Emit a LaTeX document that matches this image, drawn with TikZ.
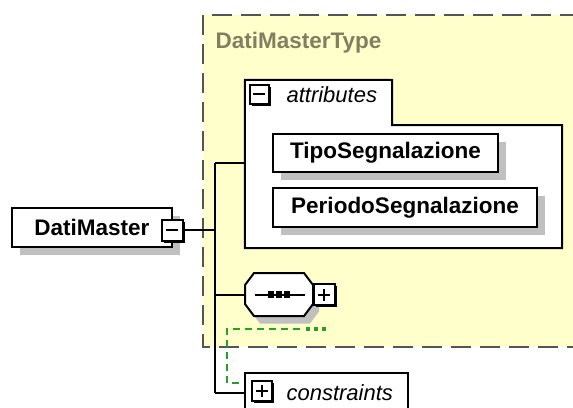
\documentclass[tikz,border=0pt]{standalone}
\usepackage{fontspec}
\setmainfont{Liberation Sans}
\usetikzlibrary{shadows,calc}
\definecolor{typefill}{RGB}{255,255,204}
\definecolor{typeframe}{RGB}{85,85,85}
\definecolor{typetext}{RGB}{128,128,96}
\definecolor{shade}{RGB}{192,192,192}
\definecolor{optgreen}{RGB}{40,160,40}
\tikzset{
  elembox/.style={draw, line width=2pt, fill=white, inner sep=0pt,
    font=\fontsize{22.5}{26}\selectfont\bfseries,
    drop shadow={shadow xshift=8pt, shadow yshift=-8pt, fill=shade, opacity=1}},
  iconbox/.style={draw, line width=2pt, fill=white, minimum size=#1, inner sep=0pt,
    drop shadow={shadow xshift=2pt, shadow yshift=-2pt, fill=black, opacity=1}},
  minussign/.style={path picture={\draw[line width=2pt]
    ([xshift=-6pt]path picture bounding box.center) -- ([xshift=6pt]path picture bounding box.center);}},
  plussign/.style={path picture={\draw[line width=2pt]
    ([xshift=-6pt]path picture bounding box.center) -- ([xshift=6pt]path picture bounding box.center)
    ([yshift=-6pt]path picture bounding box.center) -- ([yshift=6pt]path picture bounding box.center);}},
  conn/.style={line width=2pt, black},
  frameline/.style={typeframe, line width=1.4pt, dash pattern=on 20pt off 9pt},
  optline/.style={optgreen, line width=1.6pt, dash pattern=on 7pt off 5pt},
  anchorbox/.style={inner sep=0pt, minimum width=#1},
  italiclabel/.style={font=\fontsize{22}{26}\selectfont\itshape},
  octo/.pic={\path[pic actions] (-25,-21.5) -- (25,-21.5) -- (34,-9.5) -- (34,9.5)
    -- (25,21.5) -- (-25,21.5) -- (-34,9.5) -- (-34,-9.5) -- cycle;}
}
\begin{document}
\begin{tikzpicture}[x=1pt,y=-1pt]
\useasboundingbox (0,0) rectangle (573,407);
\fill[white] (0,0) rectangle (573,407);

% complex type area
\fill[typefill] (203,15) rectangle (580,347);
\draw[frameline] (580,15) -- (203,15) -- (203,347) -- (580,347);
\node[anchor=west, text=typetext, font=\fontsize{22.5}{26}\selectfont\bfseries] (typename) at (212,43) {DatiMasterType};

% layout anchors
\node[anchorbox=317pt, minimum height=168pt] (attrs) at (403.5,164) {};
\node[anchorbox=68pt, minimum height=43pt] (seq) at (279,294.5) {};
\node[anchorbox=163pt, minimum height=40pt] (cons) at (326.5,393) {};
\coordinate (spinetop) at (215,163);
\coordinate (spinebot) at (215,393);

% connectors
\draw[conn] (spinetop) -- (spinebot);
\draw[conn] (spinetop) -- (spinetop -| attrs.west);
\draw[conn] (seq.west -| spinetop) -- (seq.west);
\draw[conn] (spinebot) -- (cons.west);

% root element
\node[elembox, minimum width=160pt, minimum height=39pt] (dm) at (92,227.5) {DatiMaster\hspace{8pt}};
\node[iconbox=21pt, minussign] (dmc) at (172,230) {};
\draw[conn] (dmc.east) -- (dmc.east -| spinetop);

% attributes group
\draw[line width=2pt, fill=white] (attrs.north west) -- (392,80) -- (392,125)
  -- (attrs.north east |- 0,125) -- (attrs.south east) -- (attrs.south west) -- cycle;
\node[iconbox=19pt, minussign] (attrc) at (259,94) {};
\node[italiclabel, anchor=west] (attrlabel) at (283,95) {attributes};
\node[elembox, minimum width=225pt, minimum height=38pt] (tipo) at (385.5,153) {TipoSegnalazione};
\node[elembox, minimum width=264pt, minimum height=39pt] (periodo) at (405,207.5) {PeriodoSegnalazione};

% sequence compositor
\pic[fill=shade] at (285,302) {octo};
\pic[draw, fill=white, line width=2pt] at (279,294.5) {octo};
\draw[line width=2pt] ([xshift=10pt]seq.west) -- ([xshift=-8pt]seq.east);
\foreach \dx in {-8,0,8}
  \fill ([xshift=\dx pt]seq.center) ++(-3.25,-3.25) rectangle ++(6.5,6.5);
\node[iconbox=21pt, plussign] (seqc) at (324,294.5) {};

% optional marker towards the constraints
\coordinate (optstart) at (300,329);
\coordinate (optend) at ([yshift=10pt]cons.west);
\draw[optline] (optstart) -- (optstart -| 227,0) -- (optend -| 227,0) -- ([xshift=-2pt]optend);
\foreach \x in {308,316,324}
  \fill[optgreen] (\x-1.8,327.2) rectangle ++(3.6,3.6);

% constraints group
\draw[line width=2pt, fill=white] (cons.south west) -- (cons.north west) -- (cons.north east) -- (cons.south east);
\node[iconbox=20pt, plussign] (consc) at (262,391) {};
\node[italiclabel, anchor=west] (conslabel) at (283,393) {constraints};
\end{tikzpicture}
\end{document}
